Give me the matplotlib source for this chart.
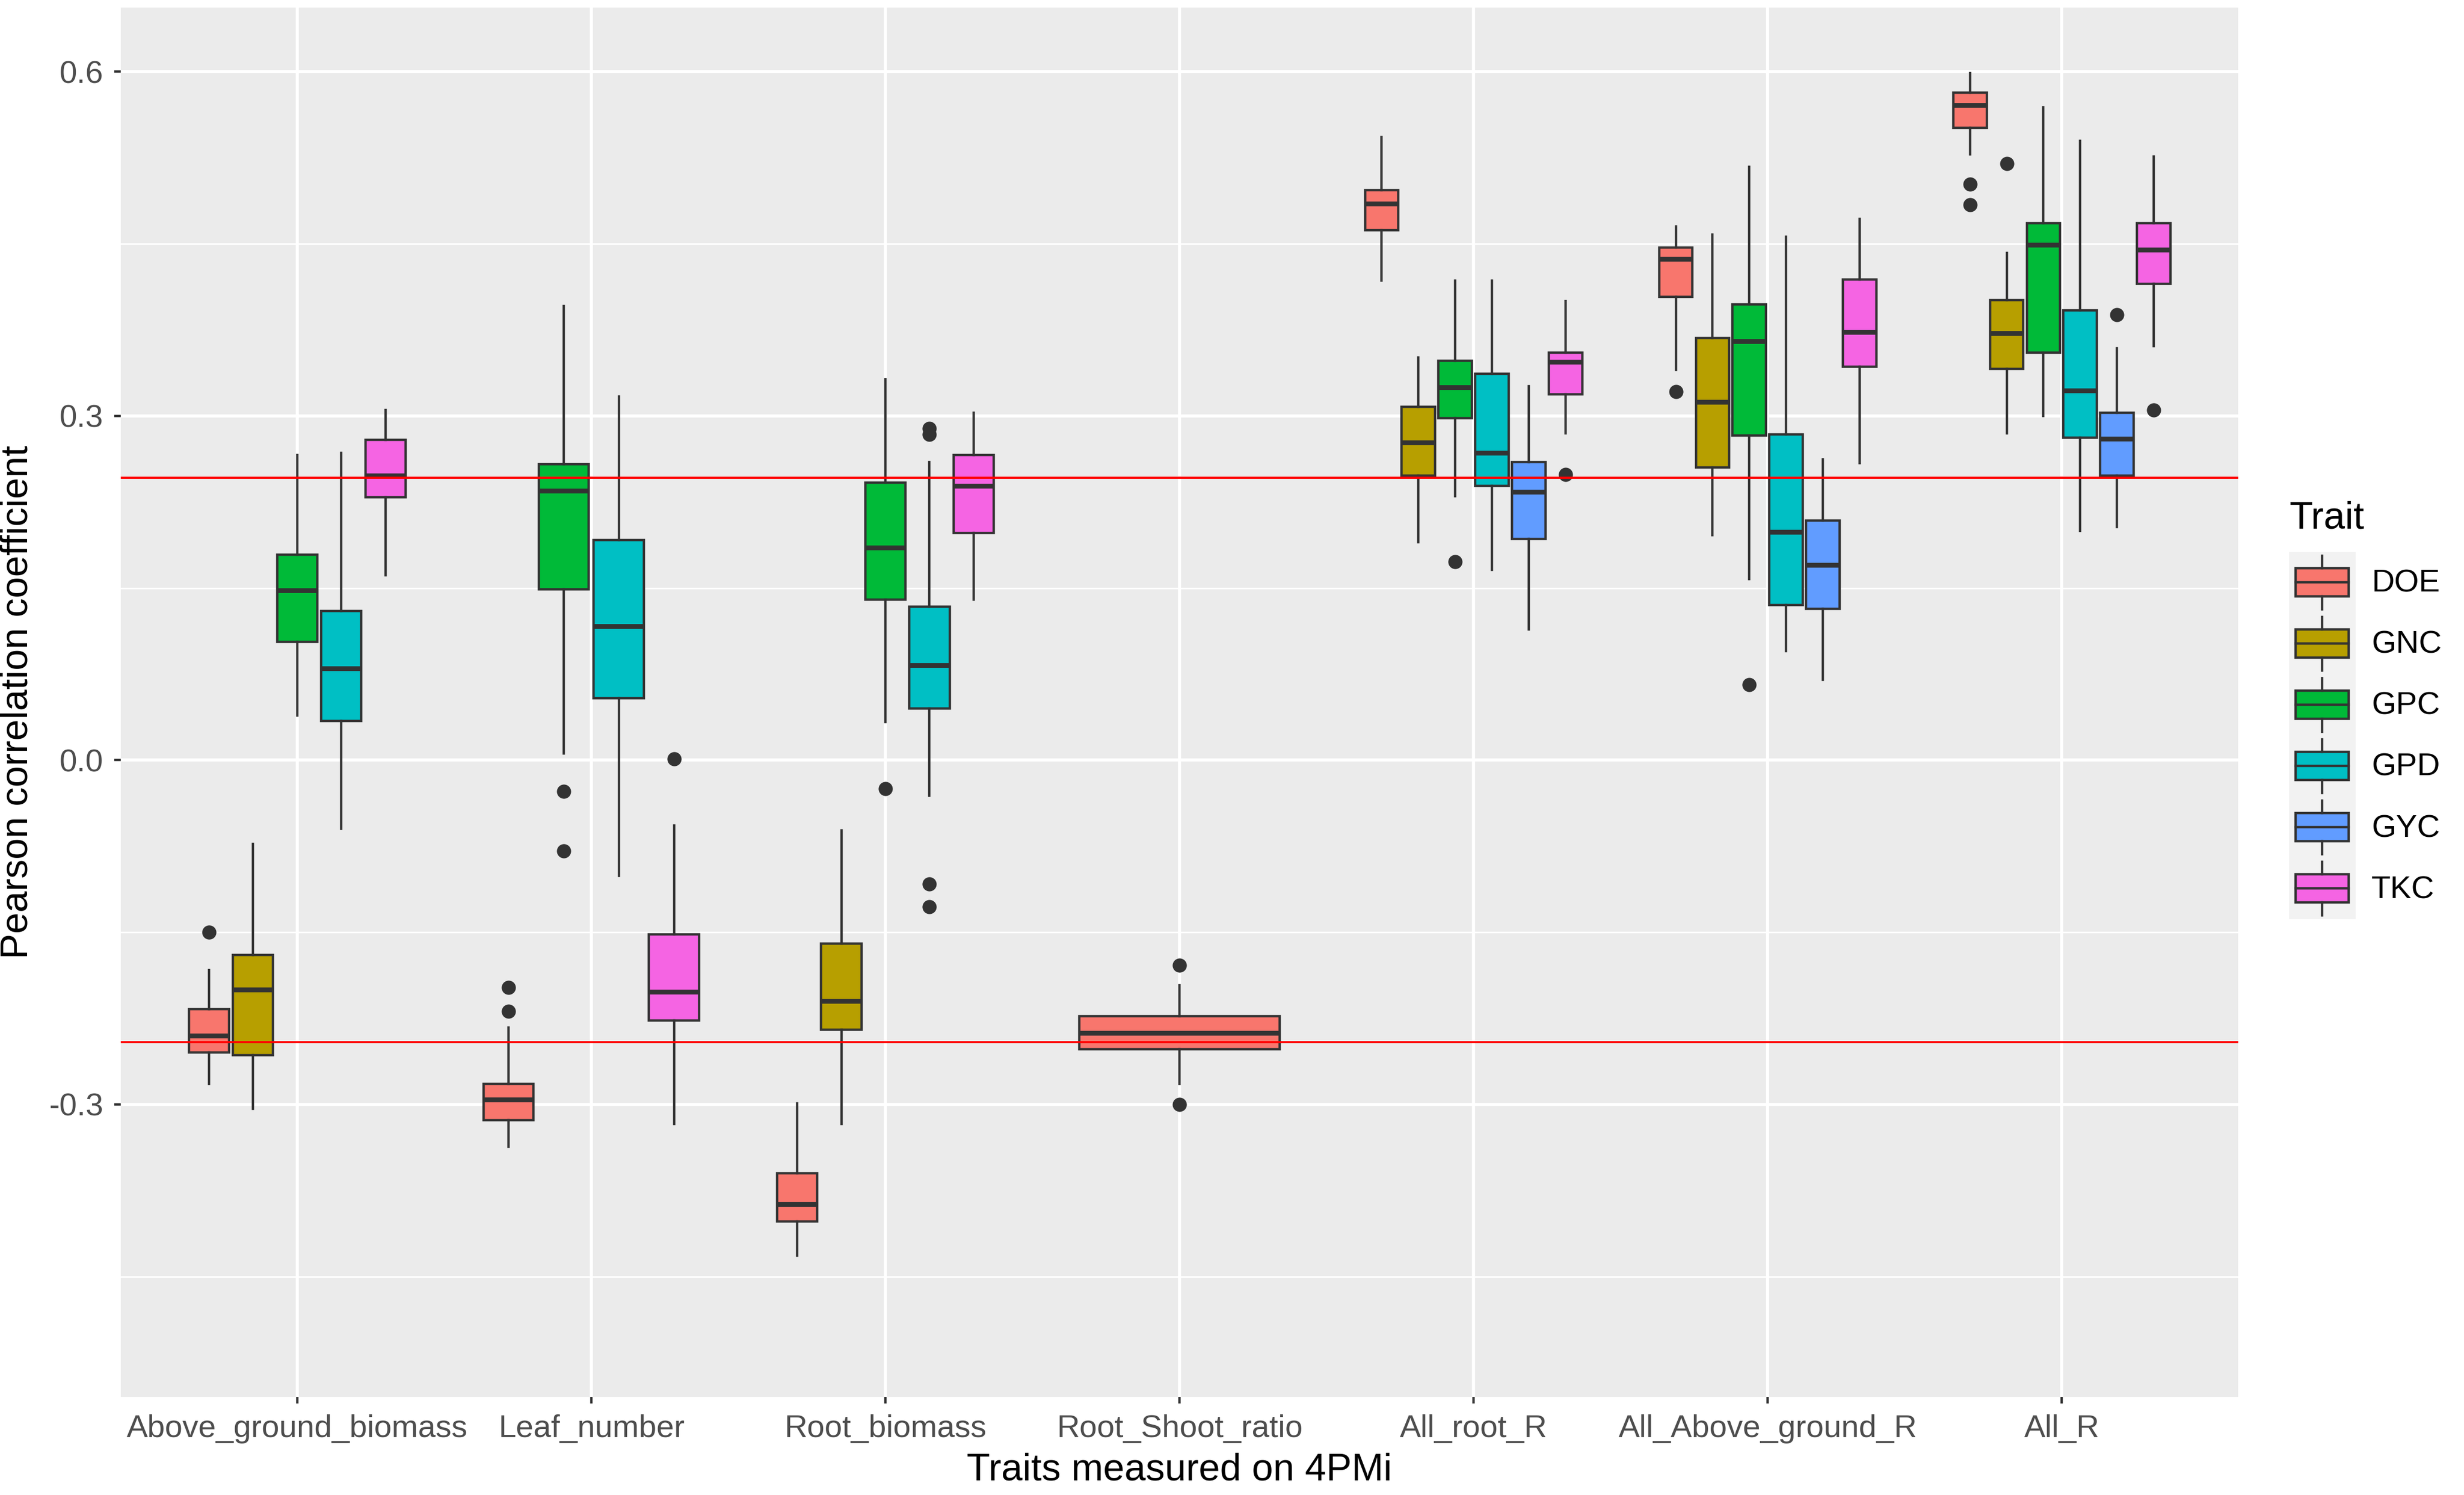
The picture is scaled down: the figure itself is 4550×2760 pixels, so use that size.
import matplotlib

matplotlib.use("Agg")
import matplotlib.pyplot as plt
from matplotlib.legend_handler import HandlerBase
from matplotlib.lines import Line2D
from matplotlib.patches import Patch, Rectangle

plt.rcParams["font.family"] = ["Liberation Sans", "DejaVu Sans"]
plt.rcParams["axes.unicode_minus"] = False

categories = ["Above_ground_biomass", "Leaf_number", "Root_biomass", "Root_Shoot_ratio",
              "All_root_R", "All_Above_ground_R", "All_R"]
traits = ["DOE", "GNC", "GPC", "GPD", "GYC", "TKC"]
trait_colors = ["#F8766D", "#B79F00", "#00BA38", "#00BFC4", "#619CFF", "#F564E3"]
y_ticks = [-0.3, 0.0, 0.3, 0.6]
y_tick_labels = ["-0.3", "0.0", "0.3", "0.6"]
sig_r = 0.246

# (whisker low, q1, median, q3, whisker high) per category; None = trait not shown
doe_stats = [(-0.282, -0.255, -0.240, -0.217, -0.183), (-0.337, -0.314, -0.296, -0.282, -0.233),
             (-0.432, -0.402, -0.387, -0.360, -0.299), (-0.282, -0.252, -0.238, -0.223, -0.196),
             (0.418, 0.462, 0.485, 0.497, 0.543), (0.340, 0.404, 0.437, 0.447, 0.465),
             (0.528, 0.551, 0.571, 0.582, 0.599)]
doe_outliers = [[-0.150], [-0.198, -0.219], [], [-0.179, -0.300], [], [0.321], [0.502, 0.484]]

gnc_stats = [(-0.304, -0.257, -0.200, -0.170, -0.073), None,
             (-0.317, -0.235, -0.210, -0.160, -0.061), None,
             (0.190, 0.248, 0.277, 0.308, 0.351), (0.196, 0.255, 0.312, 0.368, 0.458),
             (0.285, 0.341, 0.372, 0.401, 0.442)]
gnc_outliers = [[], [], [], [], [], [], [0.520]]

gpc_stats = [(0.039, 0.103, 0.148, 0.179, 0.266), (0.006, 0.149, 0.235, 0.258, 0.396),
             (0.033, 0.140, 0.185, 0.242, 0.332), None,
             (0.230, 0.298, 0.325, 0.348, 0.418), (0.158, 0.283, 0.365, 0.397, 0.517),
             (0.300, 0.355, 0.449, 0.468, 0.569)]
gpc_outliers = [[], [-0.027, -0.079], [-0.025], [], [0.173], [0.066], []]

gpd_stats = [(-0.060, 0.034, 0.080, 0.130, 0.268), (-0.101, 0.054, 0.117, 0.192, 0.317),
             (-0.031, 0.045, 0.083, 0.134, 0.260), None,
             (0.166, 0.239, 0.268, 0.337, 0.418), (0.095, 0.135, 0.199, 0.284, 0.456),
             (0.200, 0.281, 0.322, 0.392, 0.540)]
gpd_outliers = [[], [], [0.289, 0.284, -0.108, -0.128], [], [], [], []]

gyc_stats = [None, None, None, None,
             (0.114, 0.193, 0.234, 0.260, 0.326), (0.070, 0.132, 0.170, 0.209, 0.262),
             (0.203, 0.248, 0.280, 0.303, 0.359)]
gyc_outliers = [[], [], [], [], [], [], [0.388]]

tkc_stats = [(0.161, 0.229, 0.248, 0.279, 0.305), (-0.317, -0.227, -0.202, -0.152, -0.057),
             (0.140, 0.198, 0.239, 0.266, 0.303), None,
             (0.285, 0.319, 0.347, 0.355, 0.400), (0.259, 0.343, 0.373, 0.419, 0.472),
             (0.361, 0.415, 0.445, 0.468, 0.526)]
tkc_outliers = [[], [0.001], [], [], [0.249], [], [0.305]]

all_stats = [doe_stats, gnc_stats, gpc_stats, gpd_stats, gyc_stats, tkc_stats]
all_outliers = [doe_outliers, gnc_outliers, gpc_outliers, gpd_outliers, gyc_outliers, tkc_outliers]

LINE = "#333333"
DODGE = 0.75


class BoxKeyHandler(HandlerBase):
    def create_artists(self, legend, orig_handle, xdescent, ydescent, width, height, fontsize, trans):
        x0, y0 = -xdescent, -ydescent
        cx = x0 + width / 2
        bw = width * 0.8
        bg = Rectangle((x0, y0), width, height, facecolor="#F2F2F2", edgecolor="none", transform=trans)
        box = Rectangle((cx - bw / 2, y0 + 0.27 * height), bw, 0.46 * height,
                        facecolor=orig_handle.get_facecolor(), edgecolor=LINE, linewidth=1.1,
                        transform=trans)
        med = Line2D([cx - bw / 2, cx + bw / 2], [y0 + 0.5 * height] * 2, color=LINE, lw=1.1,
                     transform=trans)
        w_lo = Line2D([cx, cx], [y0 + 0.06 * height, y0 + 0.27 * height], color=LINE, lw=1.1,
                      transform=trans)
        w_hi = Line2D([cx, cx], [y0 + 0.73 * height, y0 + 0.94 * height], color=LINE, lw=1.1,
                      transform=trans)
        return [bg, box, med, w_lo, w_hi]


fig = plt.figure(figsize=(4550 / 290, 2760 / 290), dpi=290)
ax = fig.add_axes([0.049, 0.0656, 0.8594, 0.9294])
ax.set_facecolor("#EBEBEB")

# number of boxes drawn in each category (ggplot dodges over present groups)
n_present = [sum(s[i] is not None for s in all_stats) for i in range(len(categories))]

for t_idx, (stats, outliers, color) in enumerate(zip(all_stats, all_outliers, trait_colors)):
    bx_stats, positions, widths = [], [], []
    for i, s in enumerate(stats):
        if s is None:
            continue
        n = n_present[i]
        slot = DODGE / n
        k = sum(all_stats[j][i] is not None for j in range(t_idx))
        positions.append(i + 1 + (k - (n - 1) / 2) * slot)
        widths.append(slot * 0.91)
        lo, q1, med, q3, hi = s
        bx_stats.append(dict(whislo=lo, q1=q1, med=med, q3=q3, whishi=hi, fliers=outliers[i]))
    ax.bxp(bx_stats, positions=positions, widths=widths, patch_artist=True, showcaps=False,
           manage_ticks=False,
           boxprops=dict(facecolor=color, edgecolor=LINE, linewidth=1.1),
           medianprops=dict(color=LINE, linewidth=2.2),
           whiskerprops=dict(color=LINE, linewidth=1.1),
           flierprops=dict(marker="o", markerfacecolor=LINE, markeredgecolor="none",
                           markersize=6.5))

ax.axhline(sig_r, color="red", lw=1.0, zorder=4)
ax.axhline(-sig_r, color="red", lw=1.0, zorder=4)

ax.set_xlim(0.4, len(categories) + 0.6)
ax.set_ylim(-0.555, 0.656)
ax.set_xticks(range(1, len(categories) + 1))
ax.set_xticklabels(categories)
ax.set_yticks(y_ticks)
ax.set_yticklabels(y_tick_labels)
ax.set_yticks([-0.45, -0.15, 0.15, 0.45], minor=True)
ax.set_axisbelow(True)
ax.grid(which="major", color="white", lw=1.4)
ax.grid(which="minor", axis="y", color="white", lw=0.7)
ax.tick_params(which="major", length=3, width=1.1, color=LINE, labelsize=14.5,
               labelcolor="#4D4D4D", pad=5)
ax.tick_params(which="minor", length=0)
for sp in ax.spines.values():
    sp.set_visible(False)

ax.set_xlabel("Traits measured on 4PMi", fontsize=17.5, labelpad=4)
ax.set_ylabel("Pearson correlation coefficient", fontsize=17.5, labelpad=6)

handles = [Patch(facecolor=c) for c in trait_colors]
leg = fig.legend(handles, traits, handler_map={Patch: BoxKeyHandler()},
                 loc="upper left", bbox_to_anchor=(0.929, 0.665), frameon=False,
                 title="Trait", title_fontsize=17.5, fontsize=14.5, alignment="left",
                 handlelength=2.1, handleheight=2.6, labelspacing=0.0, handletextpad=0.5,
                 borderpad=0, borderaxespad=0)
leg._legend_box.sep = 7  # gap between the title and the keys, in points

fig.savefig("out.png", dpi=290)
plt.close(fig)
